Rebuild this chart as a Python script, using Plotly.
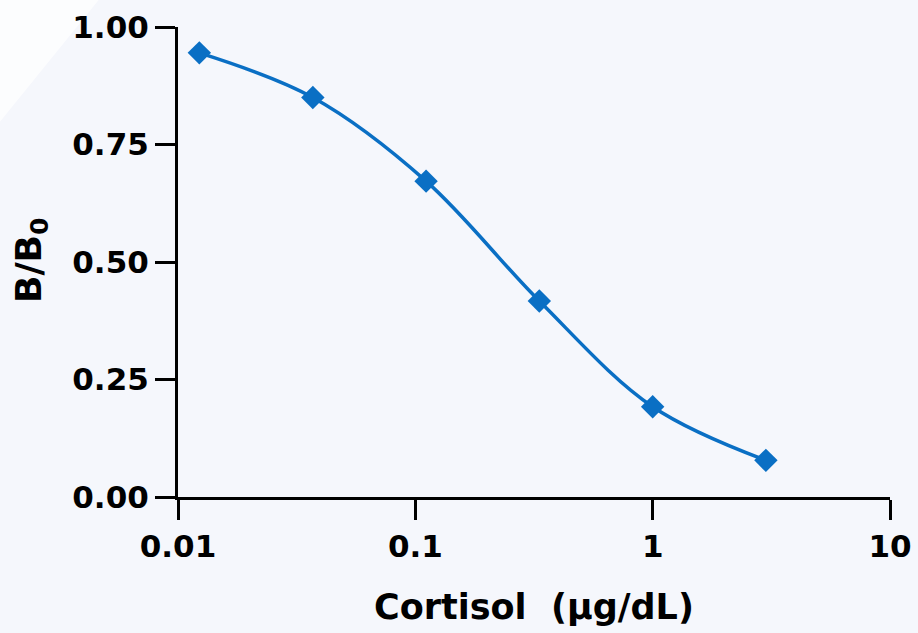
import plotly.graph_objects as go

# Data
concentration = [0.0123, 0.037, 0.111, 0.333, 1.0, 3.0]   # Cortisol (µg/dL)
b_over_b0 = [0.945, 0.850, 0.672, 0.417, 0.192, 0.078]

x_tick_vals = [0.01, 0.1, 1, 10]
x_tick_text = ["0.01", "0.1", "1", "10"]
y_tick_vals = [0, 0.25, 0.5, 0.75, 1.0]
y_tick_text = ["0.00", "0.25", "0.50", "0.75", "1.00"]
x_title = "Cortisol  (µg/dL)"
y_title = "B/B<sub>0</sub>"

BLUE = "#0A6FC4"
BG = "#F5F7FC"
FONT = "DejaVu Sans"

fig = go.Figure()
fig.add_trace(go.Scatter(
    x=concentration, y=b_over_b0,
    mode="lines+markers",
    line=dict(color=BLUE, width=3.5, shape="spline", smoothing=1.0),
    marker=dict(symbol="diamond", size=18, color=BLUE),
    showlegend=False,
    cliponaxis=False,
))

axis_common = dict(
    showgrid=False, zeroline=False, automargin=False,
    showline=True, linecolor="black", linewidth=3,
    ticks="outside", ticklen=20, tickwidth=3, tickcolor="black",
    tickfont=dict(family=FONT, size=31, color="black", weight="bold"),
)

fig.update_xaxes(type="log", range=[-2, 1],
                 tickvals=x_tick_vals, ticktext=x_tick_text, **axis_common)
fig.update_yaxes(range=[0, 1.0],
                 tickvals=y_tick_vals, ticktext=y_tick_text, **axis_common)

# axis titles
fig.add_annotation(text=x_title, xref="paper", yref="paper", x=0.5, y=-0.234,
                   showarrow=False, xanchor="center", yanchor="middle",
                   font=dict(family=FONT, size=35, color="black", weight="bold"))
fig.add_annotation(text=y_title, xref="paper", yref="paper", x=-0.206, y=0.505,
                   showarrow=False, xanchor="center", yanchor="middle", textangle=-90,
                   font=dict(family=FONT, size=36, color="black", weight="bold"))

# faint light patch in the upper-left corner of the background
fig.add_shape(
    type="path", xref="paper", yref="paper", layer="below",
    path="M -0.26 1.06 L -0.11 1.06 L -0.26 0.78 Z",
    fillcolor="rgba(255,255,255,0.7)", line=dict(width=0),
)

fig.update_layout(
    width=918, height=633,
    margin=dict(l=178, r=28, t=27, b=136),
    paper_bgcolor=BG, plot_bgcolor=BG,
    font=dict(family=FONT, color="black"),
)

fig.write_html(
    "out.html",
    config={"displayModeBar": False},
    post_script="document.body.style.margin='0';document.body.style.background='#F5F7FC';",
)
